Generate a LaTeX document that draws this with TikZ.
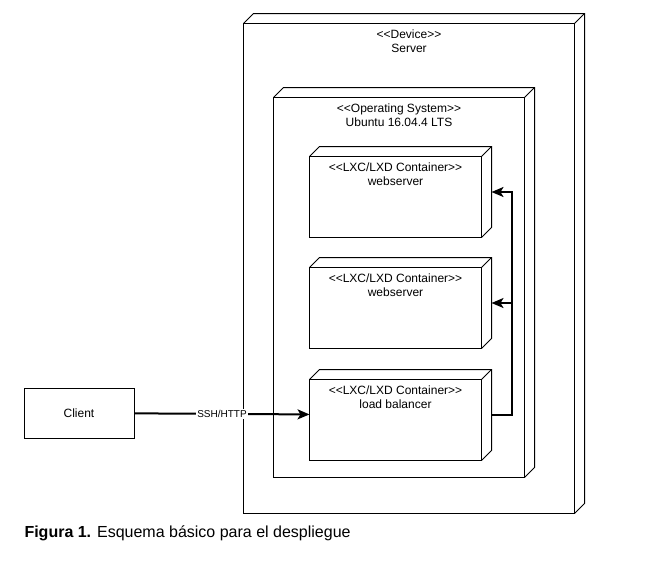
\documentclass[tikz,border=0pt]{standalone}
\usepackage{fontspec}
\setmainfont{Liberation Sans}
\usetikzlibrary{arrows.meta, positioning}

% stereotype brackets, kern keeps << from turning into a guillemet
\newcommand{\st}[1]{<\kern0pt<#1>\kern0pt>}
% front face and depth of a 3d box node
\newcommand{\depthbox}[1]{%
    \draw ([yshift=-10pt]#1.north west) rectangle ([xshift=-10pt]#1.south east);
    \draw ([yshift=-10pt]#1.north west) -- ([xshift=10pt]#1.north west) -- (#1.north east)
          -- ([yshift=10pt]#1.south east) -- ([xshift=-10pt]#1.south east);
    \draw ([shift={(-10pt,-10pt)}]#1.north east) -- (#1.north east);
}

\begin{document}
\begin{tikzpicture}[x=1pt, y=-1pt, line width=1pt,
        every node/.style={font=\fontsize{12pt}{14pt}\selectfont},
        title/.style={label={[anchor=north, align=center, inner sep=0pt, xshift=-5pt, yshift=-16pt]north:{#1}}},
        frame/.style={inner sep=0pt},
        container/.style={frame, minimum width=181pt, minimum height=90pt, title={\st{LXC/LXD Container}\\#1}},
        conn/.style={line width=2pt, -{Stealth[length=12pt, width=10pt, inset=3pt]}},
        node distance=20pt]
    \useasboundingbox[fill=white] (0,0) rectangle (654,563);

    \node[frame, minimum width=340pt, minimum height=499pt, title={\st{Device}\\Server}] (server) at (414,263.5) {};
    \node[frame, minimum width=260pt, minimum height=389pt, title={\st{Operating System}\\Ubuntu 16.04.4 LTS}] (os) at (404,282.5) {};
    \node[container=webserver] (web1) at (400.5,192) {};
    \node[container=webserver, below=of web1] (web2) {};
    \node[container=load balancer, below=21pt of web2] (lb) {};
    \foreach \n in {server, os, web1, web2, lb} {\depthbox{\n}}

    \node[draw, minimum width=110pt, minimum height=50pt] (client) at (79,413) {Client};

    \draw[conn] (client) -- node[fill=white, inner sep=1pt, font=\fontsize{10pt}{12pt}\selectfont] {SSH/HTTP} (lb);
    \draw[conn] (lb.east) -- ++(20,0) |- (web1.east);
    \draw[conn] (lb.east) -- ++(20,0) |- (web2.east);

    \node[anchor=base west, inner sep=0pt, font=\fontsize{16pt}{19pt}\selectfont] (caption) at (24,537.5)
        {\textbf{Figura 1.} Esquema básico para el despliegue};
\end{tikzpicture}
\end{document}
